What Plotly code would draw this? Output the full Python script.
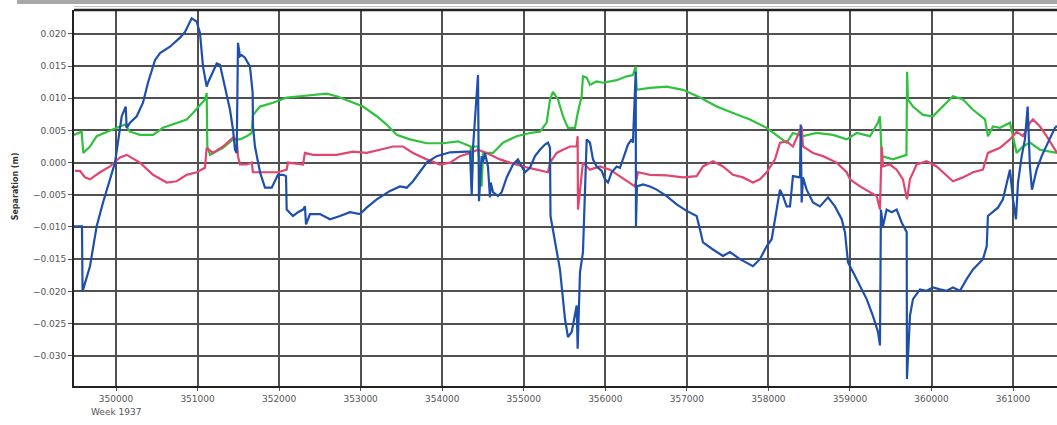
import plotly.graph_objects as go

# ---- data (x: seconds of week 1937, y: separation in metres) ----
blue_x = [349485, 349583, 349590, 349681, 349763, 349841, 349988, 350070, 350119, 350131,
          350172, 350254, 350331, 350392, 350478, 350540, 350662, 350785, 350846, 350928,
          350990, 351030, 351067, 351112, 351128, 351173, 351235, 351275, 351337, 351398,
          351435, 351459, 351480, 351496, 351520, 351541, 351582, 351643, 351676, 351680,
          351704, 351725, 351766, 351827, 351909, 351986, 352048, 352085, 352093, 352170,
          352232, 352293, 352317, 352330, 352379, 352501, 352624, 352747, 352869, 352992,
          353074, 353197, 353360, 353482, 353565, 353642, 353728, 353810, 353932, 354096,
          354300, 354341, 354362, 354378, 354439, 354451, 354484, 354500, 354525, 354561,
          354586, 354595, 354623, 354684, 354729, 354791, 354868, 354929, 354975, 355015,
          355076, 355138, 355199, 355260, 355297, 355322, 355328, 355358, 355444, 355506,
          355542, 355588, 355628, 355649, 355661, 355690, 355726, 355751, 355772, 355812,
          355849, 355894, 355956, 355996, 356033, 356078, 356140, 356180, 356217, 356278,
          356323, 356339, 356373, 356376, 356388, 356462, 356548, 356630, 356753, 356875,
          356998, 357120, 357161, 357198, 357320, 357443, 357529, 357651, 357811, 357896,
          357979, 358040, 358101, 358142, 358179, 358224, 358265, 358301, 358387, 358396,
          358408, 358424, 358469, 358547, 358632, 358731, 358816, 358899, 358939, 358976,
          359037, 359123, 359205, 359282, 359344, 359368, 359380, 359405, 359450, 359512,
          359573, 359634, 359696, 359699, 359736, 359773, 359859, 359941, 360018, 360104,
          360186, 360263, 360349, 360431, 360509, 360631, 360677, 360692, 360754, 360815,
          360876, 360922, 360962, 360999, 361036, 361061, 361106, 361146, 361179, 361207,
          361232, 361290, 361351, 361428, 361514, 361539]
blue_y = [-0.0099, -0.0099, -0.0200, -0.0161, -0.0099, -0.0062, 0.0000, 0.0072, 0.0087, 0.0054,
          0.0062, 0.0072, 0.0093, 0.0124, 0.0159, 0.0170, 0.0180, 0.0194, 0.0203, 0.0224,
          0.0219, 0.0201, 0.0149, 0.0118, 0.0124, 0.0136, 0.0154, 0.0152, 0.0118, 0.0082,
          0.0051, 0.0020, 0.0015, 0.0186, 0.0165, 0.0167, 0.0163, 0.0149, 0.0108, 0.0056,
          0.0025, 0.0010, -0.0015, -0.0039, -0.0039, -0.0019, -0.0019, -0.0021, -0.0073, -0.0083,
          -0.0077, -0.0073, -0.0068, -0.0096, -0.0080, -0.0080, -0.0088, -0.0083, -0.0077, -0.0080,
          -0.0070, -0.0057, -0.0044, -0.0037, -0.0039, -0.0029, -0.0015, 0.0000, 0.0010, 0.0016,
          0.0017, 0.0017, -0.0052, 0.0023, 0.0136, -0.0060, 0.0010, 0.0000, 0.0015, -0.0006,
          -0.0054, -0.0031, -0.0046, -0.0052, -0.0046, -0.0023, -0.0003, 0.0005, -0.0006, -0.0015,
          -0.0008, 0.0010, 0.0020, 0.0028, 0.0031, 0.0023, -0.0083, -0.0104, -0.0166, -0.0243,
          -0.0271, -0.0263, -0.0232, -0.0222, -0.0289, -0.0170, -0.0139, -0.0021, 0.0036, 0.0031,
          0.0005, -0.0006, -0.0013, -0.0026, -0.0031, -0.0015, -0.0006, -0.0008, 0.0005, 0.0028,
          0.0036, 0.0031, 0.0141, -0.0099, -0.0037, -0.0034, -0.0037, -0.0042, -0.0052, -0.0065,
          -0.0075, -0.0083, -0.0104, -0.0124, -0.0135, -0.0145, -0.0139, -0.0150, -0.0161, -0.0150,
          -0.0130, -0.0119, -0.0073, -0.0042, -0.0052, -0.0068, -0.0068, -0.0021, -0.0023, 0.0059,
          -0.0062, -0.0023, -0.0042, -0.0062, -0.0068, -0.0054, -0.0068, -0.0088, -0.0108, -0.0155,
          -0.0170, -0.0191, -0.0212, -0.0238, -0.0263, -0.0284, -0.0073, -0.0099, -0.0073, -0.0077,
          -0.0073, -0.0093, -0.0108, -0.0336, -0.0238, -0.0212, -0.0197, -0.0199, -0.0194, -0.0197,
          -0.0199, -0.0194, -0.0199, -0.0181, -0.0166, -0.0150, -0.0130, -0.0083, -0.0077, -0.0070,
          -0.0057, -0.0031, -0.0011, -0.0057, -0.0088, -0.0031, 0.0010, 0.0036, 0.0087, -0.0006,
          -0.0042, -0.0011, 0.0010, 0.0031, 0.0054, 0.0057]

green_x = [349485, 349579, 349599, 349681, 349763, 349886, 350009, 350110, 350172, 350294,
           350454, 350576, 350699, 350867, 350944, 351030, 351091, 351112, 351120, 351153,
           351312, 351435, 351520, 351603, 351664, 351680, 351766, 351925, 352093, 352256,
           352416, 352584, 352706, 352869, 353029, 353197, 353319, 353442, 353605, 353810,
           354010, 354194, 354255, 354350, 354362, 354378, 354439, 354484, 354500, 354623,
           354745, 354913, 355076, 355199, 355281, 355322, 355358, 355420, 355481, 355542,
           355628, 355665, 355710, 355726, 355772, 355812, 355894, 355972, 356140, 356262,
           356339, 356373, 356385, 356548, 356753, 356953, 357161, 357366, 357566, 357774,
           357979, 358142, 358224, 358301, 358424, 358592, 358792, 358960, 359083, 359246,
           359344, 359368, 359389, 359527, 359693, 359701, 359711, 359773, 359895, 360018,
           360141, 360263, 360386, 360509, 360656, 360692, 360754, 360840, 360962, 360999,
           361044, 361122, 361207, 361330, 361539]
green_y = [0.0043, 0.0048, 0.0015, 0.0025, 0.0041, 0.0048, 0.0054, 0.0059, 0.0048, 0.0043,
           0.0043, 0.0054, 0.0059, 0.0067, 0.0077, 0.0090, 0.0098, 0.0108, 0.0025, 0.0012,
           0.0023, 0.0036, 0.0036, 0.0041, 0.0046, 0.0074, 0.0087, 0.0093, 0.0101, 0.0103,
           0.0105, 0.0107, 0.0103, 0.0095, 0.0087, 0.0072, 0.0059, 0.0043, 0.0036, 0.0030,
           0.0030, 0.0033, 0.0030, 0.0025, -0.0037, 0.0025, 0.0025, -0.0037, 0.0015, 0.0015,
           0.0031, 0.0041, 0.0046, 0.0048, 0.0062, 0.0098, 0.0110, 0.0098, 0.0072, 0.0054,
           0.0054, 0.0079, 0.0103, 0.0134, 0.0132, 0.0121, 0.0126, 0.0124, 0.0128, 0.0134,
           0.0136, 0.0149, 0.0113, 0.0116, 0.0118, 0.0113, 0.0101, 0.0087, 0.0077, 0.0067,
           0.0054, 0.0039, 0.0031, 0.0046, 0.0041, 0.0046, 0.0043, 0.0036, 0.0046, 0.0041,
           0.0062, 0.0072, 0.0010, 0.0005, 0.0012, 0.0141, 0.0098, 0.0087, 0.0074, 0.0072,
           0.0087, 0.0103, 0.0098, 0.0082, 0.0067, 0.0041, 0.0056, 0.0054, 0.0062, 0.0041,
           0.0015, 0.0025, 0.0031, 0.0020, 0.0015]

red_x = [349497, 349559, 349620, 349681, 349804, 349926, 350049, 350131, 350294, 350454,
         350622, 350744, 350867, 350990, 351091, 351112, 351189, 351312, 351435, 351480,
         351496, 351520, 351603, 351664, 351680, 351848, 351986, 352093, 352109, 352293,
         352317, 352416, 352584, 352706, 352906, 353074, 353237, 353397, 353519, 353642,
         353810, 353973, 354096, 354218, 354341, 354439, 354545, 354709, 354831, 354991,
         355159, 355297, 355322, 355404, 355481, 355567, 355649, 355661, 355665, 355726,
         355812, 355935, 356057, 356180, 356303, 356364, 356401, 356548, 356753, 356953,
         357120, 357198, 357320, 357443, 357566, 357688, 357811, 357896, 357979, 358081,
         358142, 358224, 358301, 358408, 358424, 358547, 358669, 358837, 358960, 359000,
         359123, 359246, 359328, 359368, 359389, 359405, 359491, 359573, 359650, 359699,
         359736, 359818, 359941, 360063, 360186, 360263, 360386, 360509, 360631, 360692,
         360840, 360962, 361044, 361122, 361207, 361244, 361330, 361412, 361539]
red_y = [-0.0013, -0.0013, -0.0023, -0.0026, -0.0015, -0.0006, 0.0008, 0.0012, 0.0000, -0.0019,
         -0.0031, -0.0029, -0.0019, -0.0015, -0.0008, 0.0023, 0.0015, 0.0025, 0.0039, 0.0036,
         0.0010, -0.0003, -0.0003, 0.0000, -0.0015, -0.0015, -0.0015, -0.0011, 0.0000, -0.0003,
         0.0015, 0.0012, 0.0012, 0.0012, 0.0017, 0.0015, 0.0020, 0.0025, 0.0025, 0.0015,
         0.0005, -0.0003, 0.0000, 0.0010, 0.0015, 0.0020, 0.0015, 0.0005, 0.0000, -0.0006,
         -0.0011, -0.0015, 0.0000, 0.0015, 0.0020, 0.0025, 0.0025, 0.0041, -0.0073, 0.0000,
         -0.0011, -0.0006, -0.0011, -0.0021, -0.0031, -0.0037, -0.0015, -0.0019, -0.0020, -0.0023,
         -0.0021, -0.0006, 0.0002, -0.0006, -0.0019, -0.0023, -0.0031, -0.0026, -0.0015, 0.0005,
         0.0031, 0.0033, 0.0025, 0.0056, 0.0025, 0.0015, 0.0010, 0.0000, -0.0015, -0.0026,
         -0.0037, -0.0046, -0.0052, -0.0073, 0.0025, -0.0006, -0.0003, -0.0011, -0.0026, -0.0057,
         -0.0026, -0.0003, 0.0002, -0.0006, -0.0021, -0.0029, -0.0023, -0.0015, -0.0011, 0.0015,
         0.0023, 0.0036, 0.0048, 0.0041, 0.0062, 0.0067, 0.0056, 0.0041, 0.0015]

x_ticks = [350000, 351000, 352000, 353000, 354000, 355000, 356000, 357000, 358000, 359000, 360000, 361000]
y_ticks = [0.020, 0.015, 0.010, 0.005, 0.000, -0.005, -0.010, -0.015, -0.020, -0.025, -0.030]
x_range = [349485, 361539]
y_range = [-0.0347, 0.0237]
y_title = "Separation (m)"
week_label = "Week 1937"

fig = go.Figure()
fig.add_trace(go.Scatter(x=green_x, y=green_y, mode="lines",
                         line=dict(color="#2fc23c", width=2.2), name="green"))
fig.add_trace(go.Scatter(x=red_x, y=red_y, mode="lines",
                         line=dict(color="#e0466f", width=2.2), name="red"))
fig.add_trace(go.Scatter(x=blue_x, y=blue_y, mode="lines",
                         line=dict(color="#1d4fad", width=2.2), name="blue"))

font_family = "DejaVu Sans, Verdana, sans-serif"
fig.update_layout(
    width=1057, height=425, autosize=False,
    margin=dict(l=74, r=0, t=10, b=39, pad=0),
    paper_bgcolor="white", plot_bgcolor="white",
    showlegend=False,
    font=dict(family=font_family, size=9, color="#444"),
    xaxis=dict(range=x_range, tickvals=x_ticks, ticktext=[str(v) for v in x_ticks],
               showgrid=True, gridcolor="#505050", gridwidth=1.6, zeroline=False,
               showline=True, linecolor="#222", linewidth=2,
               ticks="outside", ticklen=3, tickcolor="#555",
               tickfont=dict(size=9, color="#555")),
    yaxis=dict(range=y_range, tickvals=y_ticks, tickformat=".3f",
               showgrid=True, gridcolor="#505050", gridwidth=1.6, zeroline=False,
               showline=True, linecolor="#222", linewidth=2,
               ticks="outside", ticklen=4, tickcolor="#555",
               tickfont=dict(size=9, color="#555")),
)

# top frame line and window chrome
fig.add_shape(type="line", xref="paper", yref="paper", x0=0, x1=1, y0=1, y1=1,
              line=dict(color="#222", width=2.5))
fig.add_shape(type="rect", xref="paper", yref="paper", x0=-0.058, x1=1.01, y0=1.016, y1=1.03,
              line=dict(width=0), fillcolor="#a8a8a8", layer="above")
fig.add_shape(type="line", xref="paper", yref="paper", x0=0, x1=1, y0=1.009, y1=1.009,
              line=dict(color="#bbbbbb", width=1))

fig.add_annotation(text="<b>" + y_title + "</b>", xref="paper", yref="paper",
                   x=-0.066, y=0.53, textangle=-90, showarrow=False,
                   font=dict(size=8, color="#333"))
fig.add_annotation(text=week_label, xref="x", yref="paper", x=x_ticks[0], y=-0.05,
                   showarrow=False, yanchor="top", font=dict(size=9, color="#555"))

fig.write_html("out.html", config={"displayModeBar": False},
               post_script="document.body.style.margin='0';document.body.style.overflow='hidden';")
